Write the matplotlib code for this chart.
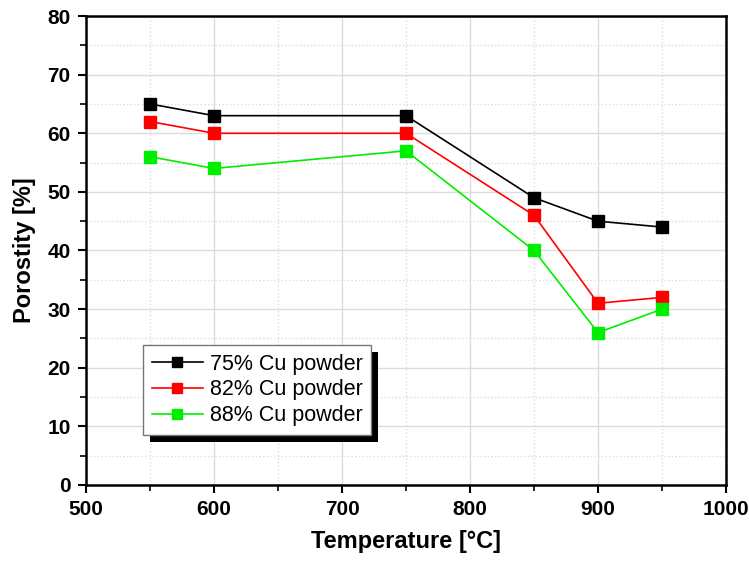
import numpy as np
import matplotlib.pyplot as plt
from matplotlib.patches import Rectangle
from matplotlib.ticker import MultipleLocator

plt.rcParams['font.family'] = ['Liberation Sans', 'DejaVu Sans']

temperature = [550, 600, 750, 850, 900, 950]
cu75 = [65, 63, 63, 49, 45, 44]
cu82 = [62, 60, 60, 46, 31, 32]
cu88 = [56, 54, 57, 40, 26, 30]
series_names = ['75% Cu powder', '82% Cu powder', '88% Cu powder']
series_colors = ['black', '#ff0000', '#00ee00']

fig = plt.figure(figsize=(7.49, 5.64), dpi=100)
ax = fig.add_axes([86/749, 1-485/564, 640/749, 469/564])

for vals, name, col in zip([cu75, cu82, cu88], series_names, series_colors):
    ax.plot(temperature, vals, color=col, lw=1.2, marker='s', ms=8,
            mfc=col, mec=col, label=name, zorder=3)

ax.set_xlim(500, 1000)
ax.set_ylim(0, 80)
ax.xaxis.set_major_locator(MultipleLocator(100))
ax.xaxis.set_minor_locator(MultipleLocator(50))
ax.yaxis.set_major_locator(MultipleLocator(10))
ax.yaxis.set_minor_locator(MultipleLocator(5))

# grid: solid majors, dotted minors
ax.grid(which='major', color='#dcdcdc', lw=1.0, ls='-', zorder=0)
ax.grid(which='minor', color='#dcdcdc', lw=1.0, ls=':', zorder=0)
ax.set_axisbelow(True)

for s in ax.spines.values():
    s.set_linewidth(1.8)
ax.tick_params(which='major', direction='out', length=6, width=1.5,
               labelsize=15, pad=5)
ax.tick_params(which='minor', direction='out', length=4, width=1.2)
for lab in ax.get_xticklabels() + ax.get_yticklabels():
    lab.set_fontweight('bold')

ax.set_xlabel('Temperature [°C]', fontsize=17, fontweight='bold', labelpad=8)
ax.set_ylabel('Porostity [%]', fontsize=17, fontweight='bold', labelpad=8)

leg = ax.legend(loc='upper left', bbox_to_anchor=(0.089, 0.2985),
                fontsize=15.5, frameon=True, fancybox=False, framealpha=1,
                handlelength=2.4, handletextpad=0.3, borderpad=0.4,
                labelspacing=0.22, borderaxespad=0, markerscale=0.85)
leg.get_frame().set_edgecolor('#777777')
leg.get_frame().set_linewidth(1.0)
leg.set_zorder(6)

# offset black shadow behind the legend box
fig.canvas.draw()
bb = leg.get_window_extent().transformed(fig.transFigure.inverted())
dx, dy = 7/749, 7/564
shadow = Rectangle((bb.x0 + dx, bb.y0 - dy), bb.width, bb.height,
                   transform=fig.transFigure, facecolor='black',
                   edgecolor='none', zorder=5, clip_on=False)
ax.add_patch(shadow)

fig.savefig('out.png', dpi=100)
